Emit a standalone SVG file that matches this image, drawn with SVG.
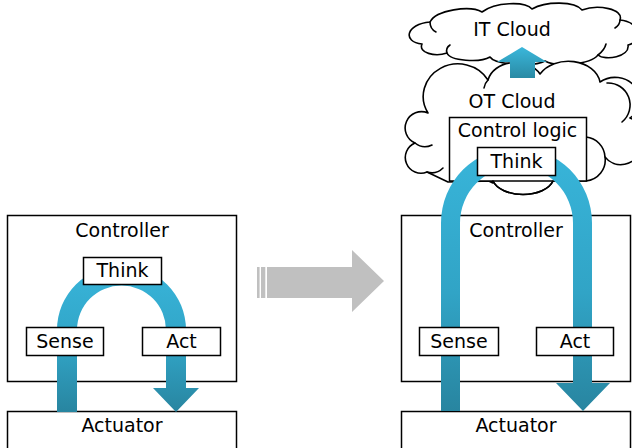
<svg xmlns="http://www.w3.org/2000/svg" width="632" height="448" viewBox="0 0 632 448">
  <defs>
    <linearGradient id="flow" x1="0" y1="0" x2="0" y2="1">
      <stop offset="0" stop-color="#38b5da"/>
      <stop offset="0.55" stop-color="#31a4c6"/>
      <stop offset="1" stop-color="#2885a0"/>
    </linearGradient>
    <linearGradient id="flowUp" x1="0" y1="0" x2="0" y2="1">
      <stop offset="0" stop-color="#3ab7db"/>
      <stop offset="1" stop-color="#2a8aa4"/>
    </linearGradient>
  </defs>
  <style>
    .box { fill: #ffffff; stroke: #000000; stroke-width: 1.5; }
    .cloud { fill: #ffffff; stroke: #000000; stroke-width: 1.6; stroke-linejoin: round; }
    .stub { fill: none; stroke: #000000; stroke-width: 1.6; stroke-linecap: round; }
    .label { font-family: "DejaVu Sans", Verdana, sans-serif; font-size: 19px; fill: #000000; text-anchor: middle; }
    .flow { fill: url(#flow); }
    .grey { fill: #c0c0c0; }
  </style>

  <!-- Left: local control loop -->
  <g id="left-controller">
    <rect class="box" x="7.5" y="215.5" width="229" height="166"/>
    <text class="label" x="122" y="237">Controller</text>
  </g>
  <g id="left-actuator">
    <rect class="box" x="7.5" y="411.5" width="229" height="44"/>
    <text class="label" x="122" y="432">Actuator</text>
  </g>

  <!-- Right: clouds -->
  <g id="it-cloud">
    <path class="cloud" d="M 422,44 C 402,42 406,24 430,22 C 436,10 470,5 482,12 C 495,2 525,1 532,9 C 546,1 575,1 582,10 C 598,4 624,9 620,20 C 642,22 642,42 628,45 C 630,57 605,61 598,55 C 590,65 555,67 545,61 C 535,67 495,65 490,57 C 480,63 450,61 447,53 C 435,57 418,53 422,44 Z"/>
    <path class="stub" d="M 430,22 C 430,27 432,30 436,32"/>
    <path class="stub" d="M 447,53 C 446,50 447,47 450,45"/>
    <path class="stub" d="M 598,55 C 602,52 605,48 606,44"/>
    <path class="stub" d="M 620,20 C 620,23 618,26 615,28"/>
    <text class="label" x="512" y="36">IT Cloud</text>
  </g>

  <g id="ot-cloud">
    <path class="cloud" d="M 448,182 L 427,172 A 15 15 0 0 1 415,143 A 16 16 0 0 1 428,113 A 32 30 0 0 1 488,80 A 28 22 0 0 1 540,74 A 32 24 0 0 1 600,82 A 24 22 0 0 1 630,118 A 22 22 0 0 1 640,150 A 20 20 0 0 1 605,157 A 21 21 0 0 1 586,181 L 553,181 A 31 18 0 0 1 493,181 Z"/>
    <path class="stub" d="M 586,137 A 21 21 0 0 1 605,157"/>
    <path class="stub" d="M 607,83 A 22 22 0 0 1 622,122"/>
    <path class="stub" d="M 427,172 A 16 16 0 0 0 443,168"/>
    <path class="stub" d="M 415,143 A 16 16 0 0 0 432,145"/>
    <path class="stub" d="M 488,80 A 14 14 0 0 0 484,88"/>
    <path class="stub" d="M 470,187 A 14 10 0 0 1 493,183"/>
    <text class="label" x="512" y="108">OT Cloud</text>
  </g>

  <g id="control-logic">
    <rect class="box" x="449.5" y="117.5" width="137" height="63.5"/>
    <text class="label" x="517.5" y="137">Control logic</text>
  </g>
  <path class="stub" d="M 493,181 A 31 18 0 0 0 553,181"/>

  <g id="right-controller">
    <rect class="box" x="401.5" y="215.5" width="229" height="166"/>
    <text class="label" x="516" y="237">Controller</text>
  </g>
  <g id="right-actuator">
    <rect class="box" x="401.5" y="411.5" width="229" height="44"/>
    <text class="label" x="516" y="432">Actuator</text>
  </g>

  <!-- Connectors: loop arrows, cloud uplink, transition arrow -->
  <g id="connectors">
    <path id="left-loop" class="flow" d="M 57,412 V 330 A 64.5 64.5 0 0 1 186,330 V 388 H 199 L 176,412 L 153,388 H 166 V 330 A 44.5 44.5 0 0 0 77,330 V 412 Z"/>
    <path id="right-loop" class="flow" d="M 441,411 V 223 A 75.5 75.5 0 0 1 592,223 V 383 H 610 L 583,411 L 556,383 H 573 V 223 A 56.5 56.5 0 0 0 460,223 V 411 Z"/>
    <path id="uplink" fill="url(#flowUp)" d="M 510,78 V 62 H 497 L 522,47 L 547,62 H 535 V 78 Z"/>
    <g id="transition">
      <rect class="grey" x="257" y="267" width="2.6" height="31"/>
      <rect class="grey" x="261" y="267" width="4.3" height="31"/>
      <path class="grey" d="M 267,267 H 352 V 250 L 384,281 L 352,312 V 298 H 267 Z"/>
    </g>
  </g>

  <!-- Labels sitting on the loops -->
  <g id="left-think">
    <rect class="box" x="83.5" y="257.5" width="78" height="27"/>
    <text class="label" x="122.5" y="277">Think</text>
  </g>
  <g id="left-sense">
    <rect class="box" x="26.5" y="327.5" width="77" height="28"/>
    <text class="label" x="65" y="348">Sense</text>
  </g>
  <g id="left-act">
    <rect class="box" x="142.5" y="327.5" width="78" height="28"/>
    <text class="label" x="181.5" y="348">Act</text>
  </g>

  <g id="right-think">
    <rect class="box" x="477.5" y="147.5" width="78" height="28"/>
    <text class="label" x="516.5" y="168">Think</text>
  </g>
  <g id="right-sense">
    <rect class="box" x="419.5" y="327.5" width="79" height="28"/>
    <text class="label" x="459" y="348">Sense</text>
  </g>
  <g id="right-act">
    <rect class="box" x="536.5" y="327.5" width="77" height="28"/>
    <text class="label" x="575" y="348">Act</text>
  </g>
</svg>
